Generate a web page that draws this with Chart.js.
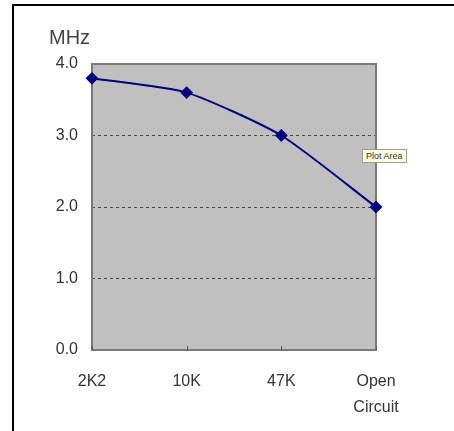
<!DOCTYPE html>
<html lang="en">
<head>
    <meta charset="utf-8">
    <title>MHz vs resistor</title>
    <style>
        body {
            margin: 0;
            padding: 0;
            background: #ffffff;
            font-family: 'Liberation Sans', Arial, sans-serif;
        }

        #frame {
            position: absolute;
            left: 12px;
            top: 4px;
            width: 460px;
            height: 440px;
            border-top: 2px solid #000;
            border-left: 2px solid #000;
        }

        #chart-box {
            position: absolute;
            left: 0;
            top: 0;
            width: 454px;
            height: 431px;
        }

        /* the little Excel hover label */
        .plot-tip {
            position: absolute;
            left: 362px;
            top: 149px;
            padding: 1px 3px;
            background: #ffffe1;
            border: 1px solid #9a9a9a;
            font-size: 9px;
            color: #333;
            white-space: nowrap;
        }
    </style>
</head>
<body>

<div id="frame"></div>
<div id="chart-box">
    <canvas id="freqChart" width="454" height="431"></canvas>
</div>
<div class="plot-tip">Plot Area</div>

<script src="https://cdn.jsdelivr.net/npm/chart.js"></script>
<script>
    const categories = ['2K2', '10K', '47K', ['Open', 'Circuit']];
    const freqMHz = [3.8, 3.6, 3.0, 2.0];
    const yTicks = [0, 1, 2, 3, 4];
    const unitLabel = 'MHz';

    // grey plot background, border, inner tick marks and the unit text
    const plotDecor = {
        id: 'plotDecor',
        beforeDraw(chart) {
            const { ctx, chartArea: a } = chart;
            ctx.save();
            ctx.fillStyle = '#c0c0c0';
            ctx.fillRect(a.left, a.top, a.right - a.left, a.bottom - a.top);
            ctx.fillStyle = '#444';
            ctx.font = '20px "Liberation Sans", Arial, sans-serif';
            ctx.textBaseline = 'alphabetic';
            ctx.fillText(unitLabel, 49, 44);
            ctx.restore();
        },
        beforeDatasetsDraw(chart) {
            const { ctx, chartArea: a, scales } = chart;
            ctx.save();
            ctx.strokeStyle = '#7a7a7a';
            ctx.lineWidth = 2;
            ctx.strokeRect(a.left, a.top, a.right - a.left, a.bottom - a.top);
            ctx.lineWidth = 1;
            ctx.strokeStyle = '#555';
            scales.x.ticks.forEach((t, i) => {
                const x = Math.round(scales.x.getPixelForTick(i)) + 0.5;
                ctx.beginPath();
                ctx.moveTo(x, a.bottom);
                ctx.lineTo(x, a.bottom - 4);
                ctx.stroke();
            });
            ctx.restore();
        }
    };

    const ctx = document.getElementById('freqChart').getContext('2d');
    new Chart(ctx, {
        type: 'line',
        data: {
            labels: categories,
            datasets: [{
                data: freqMHz,
                borderColor: '#000080',
                backgroundColor: '#000080',
                borderWidth: 2,
                tension: 0.2,
                pointStyle: 'rectRot',
                pointRadius: 5,
                pointHoverRadius: 5,
                clip: false
            }]
        },
        options: {
            responsive: false,
            animation: false,
            layout: {
                padding: { left: 0, top: 64, right: 78, bottom: 0 }
            },
            plugins: {
                legend: { display: false },
                tooltip: { enabled: false }
            },
            scales: {
                x: {
                    offset: false,
                    afterFit(scale) { scale.height = 81; },
                    grid: { display: false, drawTicks: false },
                    border: { display: false },
                    ticks: {
                        padding: 19,
                        color: '#333',
                        maxRotation: 0,
                        autoSkip: false,
                        font: { family: '"Liberation Sans", Arial, sans-serif', size: 16, lineHeight: 1.6 }
                    }
                },
                y: {
                    min: 0,
                    max: 4,
                    afterFit(scale) { scale.width = 92; },
                    afterBuildTicks(scale) {
                        scale.ticks = yTicks.map(v => ({ value: v }));
                    },
                    grid: {
                        color: ctx => (ctx.tick && ctx.tick.value > 0 && ctx.tick.value < 4) ? '#4a4a4a' : 'rgba(0,0,0,0)',
                        lineWidth: 1,
                        drawTicks: false
                    },
                    border: { display: false, dash: [3, 3] },
                    ticks: {
                        padding: 14,
                        color: '#333',
                        font: { family: '"Liberation Sans", Arial, sans-serif', size: 16 },
                        callback: v => Number(v).toFixed(1)
                    }
                }
            }
        },
        plugins: [plotDecor]
    });
</script>
</body>
</html>
